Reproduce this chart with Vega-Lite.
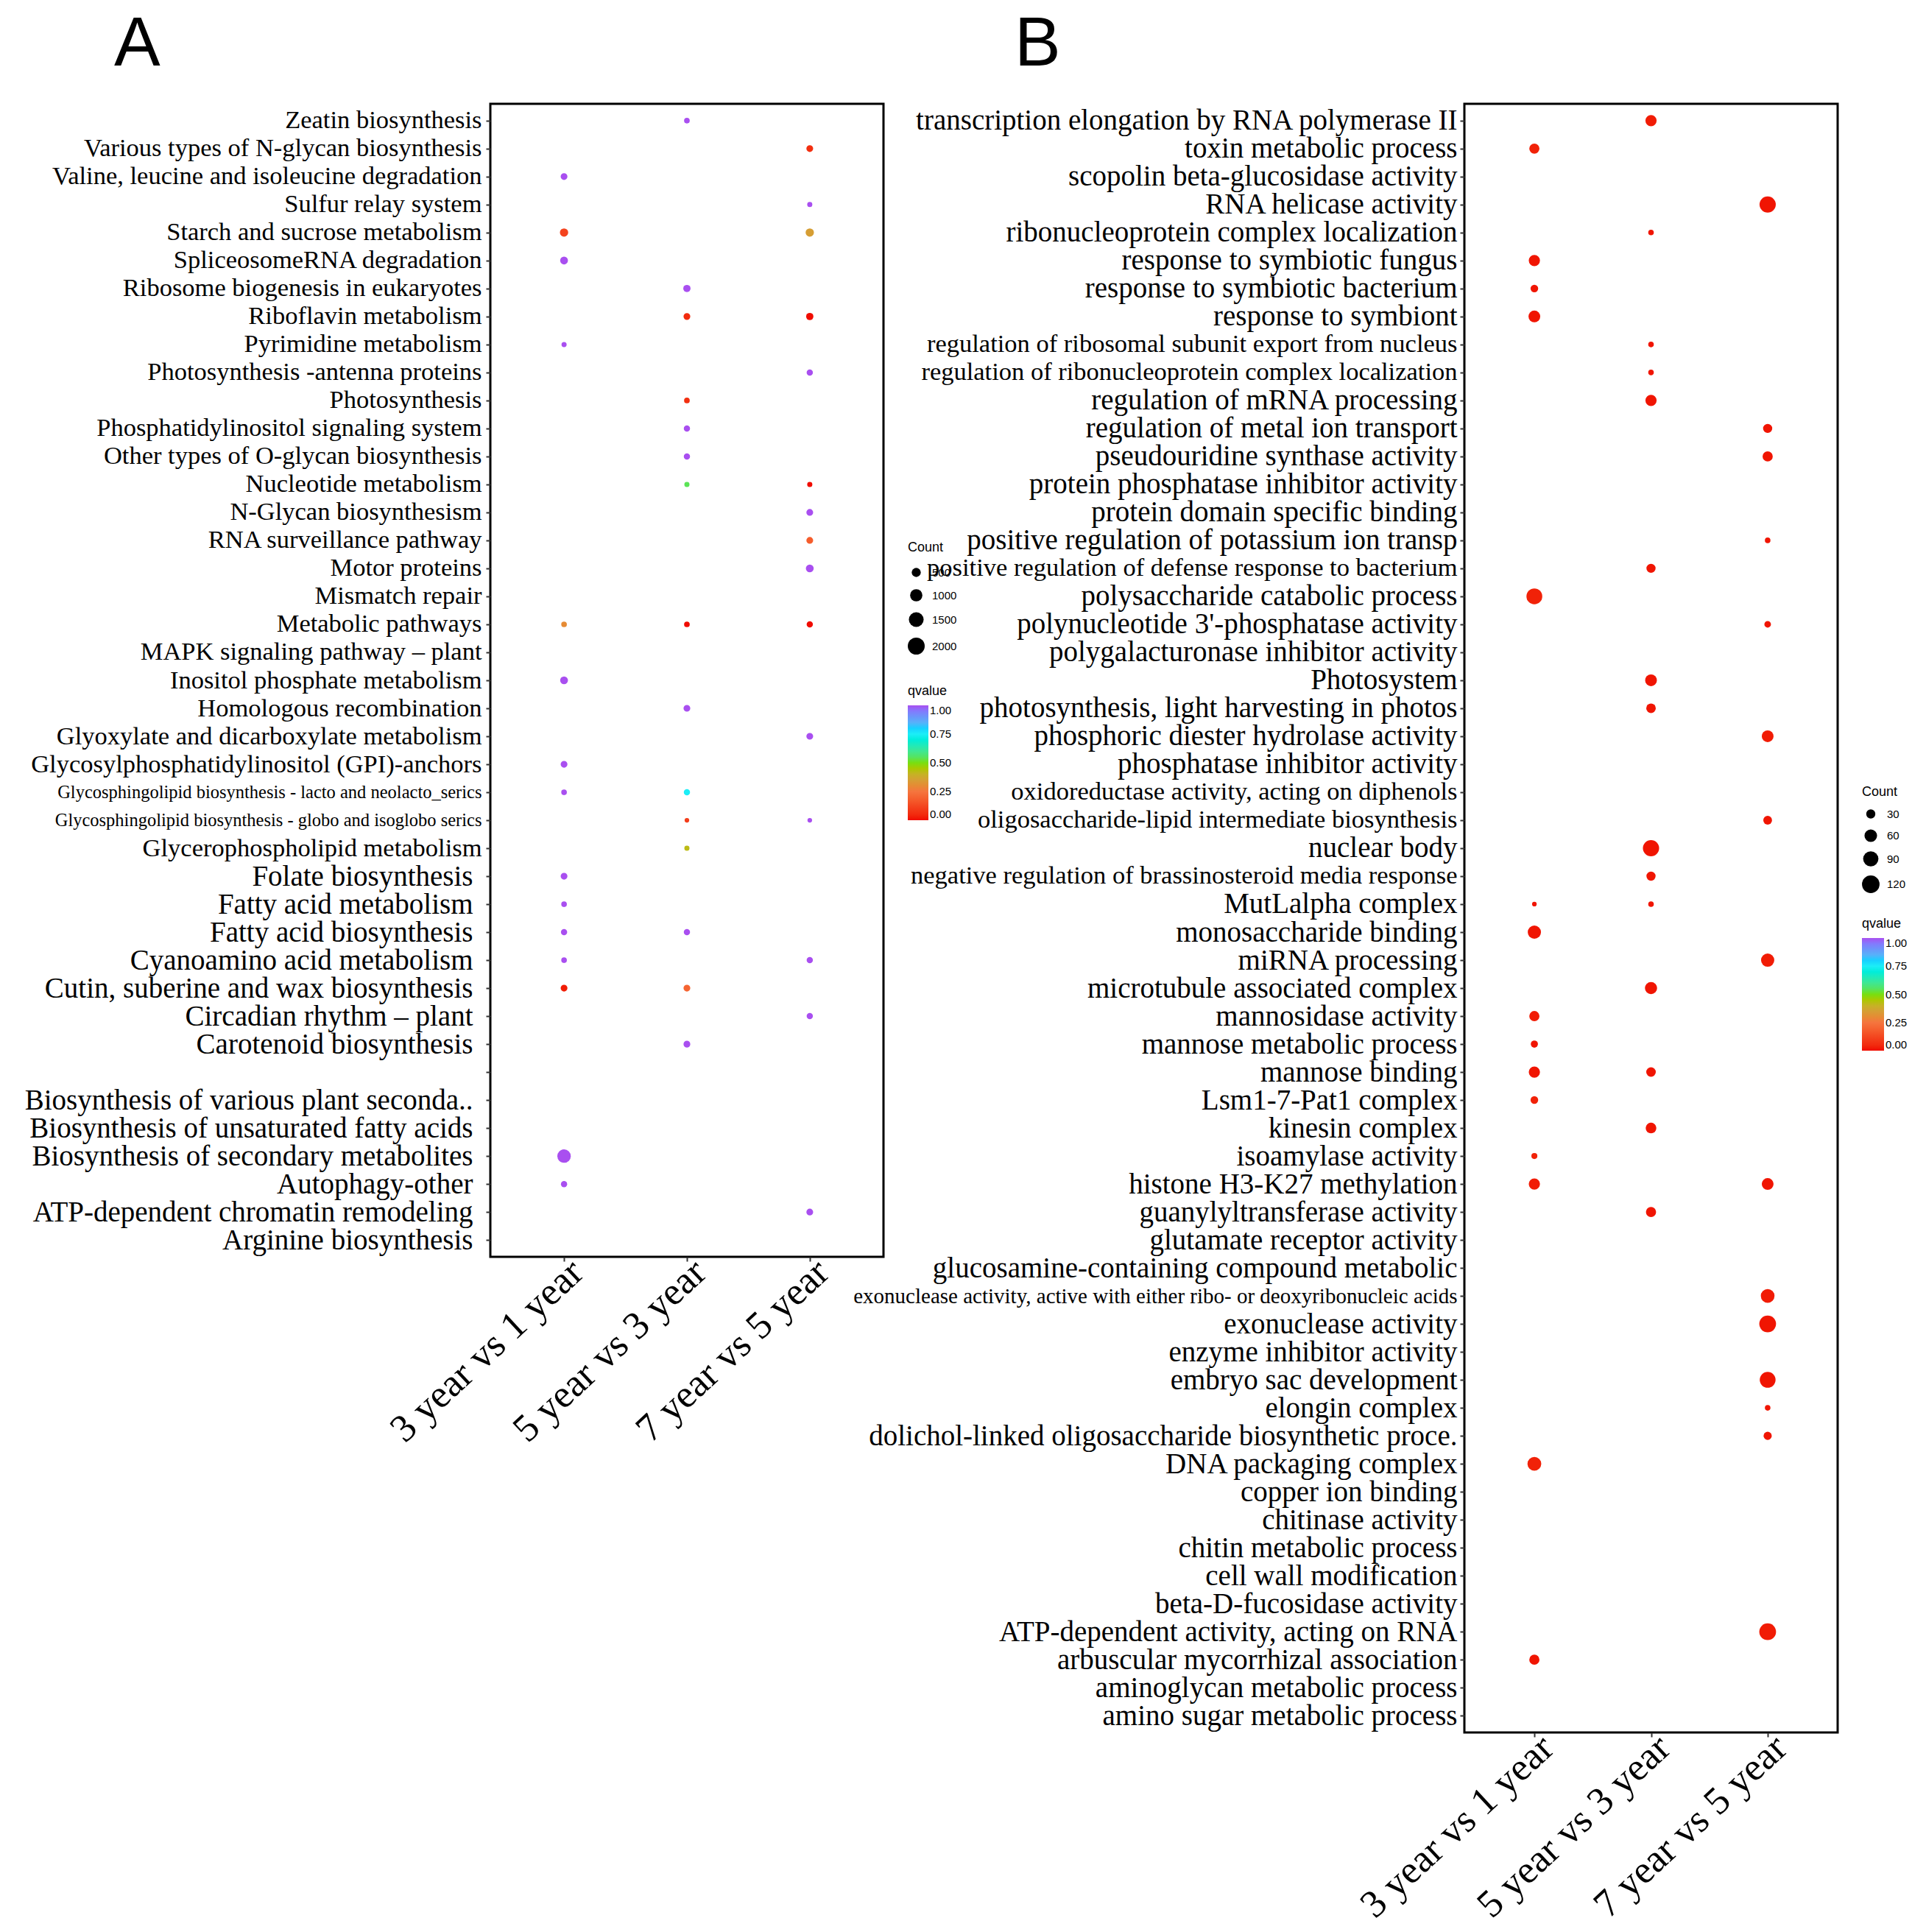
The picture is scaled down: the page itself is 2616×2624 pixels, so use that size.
{
  "$schema": "https://vega.github.io/schema/vega-lite/v6.json",
  "autosize": {"type": "none"},
  "padding": {"left": 666, "top": 141, "right": 1950, "bottom": 2483},
  "background": "white",
  "bounds": "flush",
  "spacing": 789,
  "datasets": {
    "kegg": [
      {"term": "Zeatin biosynthesis", "comp": "5 year vs 3 year", "count": 136, "q": 1.0},
      {"term": "Various types of N-glycan biosynthesis", "comp": "7 year vs 5 year", "count": 237, "q": 0.06},
      {"term": "Valine, leucine and isoleucine degradation", "comp": "3 year vs 1 year", "count": 237, "q": 1.0},
      {"term": "Sulfur relay system", "comp": "7 year vs 5 year", "count": 95, "q": 1.0},
      {"term": "Starch and sucrose metabolism", "comp": "3 year vs 1 year", "count": 407, "q": 0.12},
      {"term": "Starch and sucrose metabolism", "comp": "7 year vs 5 year", "count": 407, "q": 0.35},
      {"term": "SpliceosomeRNA degradation", "comp": "3 year vs 1 year", "count": 347, "q": 1.0},
      {"term": "Ribosome biogenesis in eukaryotes", "comp": "5 year vs 3 year", "count": 290, "q": 1.0},
      {"term": "Riboflavin metabolism", "comp": "5 year vs 3 year", "count": 237, "q": 0.05},
      {"term": "Riboflavin metabolism", "comp": "7 year vs 5 year", "count": 290, "q": 0.0},
      {"term": "Pyrimidine metabolism", "comp": "3 year vs 1 year", "count": 95, "q": 1.0},
      {"term": "Photosynthesis -antenna proteins", "comp": "7 year vs 5 year", "count": 187, "q": 1.0},
      {"term": "Photosynthesis", "comp": "5 year vs 3 year", "count": 136, "q": 0.06},
      {"term": "Phosphatidylinositol signaling system", "comp": "5 year vs 3 year", "count": 187, "q": 1.0},
      {"term": "Other types of O-glycan biosynthesis", "comp": "5 year vs 3 year", "count": 187, "q": 1.0},
      {"term": "Nucleotide metabolism", "comp": "5 year vs 3 year", "count": 95, "q": 0.54},
      {"term": "Nucleotide metabolism", "comp": "7 year vs 5 year", "count": 95, "q": 0.0},
      {"term": "N-Glycan biosynthesism", "comp": "7 year vs 5 year", "count": 237, "q": 1.0},
      {"term": "RNA surveillance pathway", "comp": "7 year vs 5 year", "count": 237, "q": 0.18},
      {"term": "Motor proteins", "comp": "7 year vs 5 year", "count": 347, "q": 1.0},
      {"term": "Metabolic pathways", "comp": "3 year vs 1 year", "count": 136, "q": 0.3},
      {"term": "Metabolic pathways", "comp": "5 year vs 3 year", "count": 136, "q": 0.0},
      {"term": "Metabolic pathways", "comp": "7 year vs 5 year", "count": 187, "q": 0.0},
      {"term": "Inositol phosphate metabolism", "comp": "3 year vs 1 year", "count": 347, "q": 1.0},
      {"term": "Homologous recombination", "comp": "5 year vs 3 year", "count": 237, "q": 1.0},
      {"term": "Glyoxylate and dicarboxylate metabolism", "comp": "7 year vs 5 year", "count": 237, "q": 1.0},
      {"term": "Glycosylphosphatidylinositol (GPI)-anchors", "comp": "3 year vs 1 year", "count": 237, "q": 1.0},
      {"term": "Glycosphingolipid biosynthesis - lacto and neolacto_serics", "comp": "3 year vs 1 year", "count": 136, "q": 1.0},
      {"term": "Glycosphingolipid biosynthesis - lacto and neolacto_serics", "comp": "5 year vs 3 year", "count": 187, "q": 0.75},
      {"term": "Glycosphingolipid biosynthesis - globo and isoglobo serics", "comp": "5 year vs 3 year", "count": 58, "q": 0.1},
      {"term": "Glycosphingolipid biosynthesis - globo and isoglobo serics", "comp": "7 year vs 5 year", "count": 58, "q": 1.0},
      {"term": "Glycerophospholipid metabolism", "comp": "5 year vs 3 year", "count": 95, "q": 0.42},
      {"term": "Folate biosynthesis", "comp": "3 year vs 1 year", "count": 237, "q": 1.0},
      {"term": "Fatty acid metabolism", "comp": "3 year vs 1 year", "count": 136, "q": 1.0},
      {"term": "Fatty acid biosynthesis", "comp": "3 year vs 1 year", "count": 187, "q": 1.0},
      {"term": "Fatty acid biosynthesis", "comp": "5 year vs 3 year", "count": 187, "q": 1.0},
      {"term": "Cyanoamino acid metabolism", "comp": "3 year vs 1 year", "count": 136, "q": 1.0},
      {"term": "Cyanoamino acid metabolism", "comp": "7 year vs 5 year", "count": 187, "q": 1.0},
      {"term": "Cutin, suberine and wax biosynthesis", "comp": "3 year vs 1 year", "count": 237, "q": 0.02},
      {"term": "Cutin, suberine and wax biosynthesis", "comp": "5 year vs 3 year", "count": 237, "q": 0.2},
      {"term": "Circadian rhythm – plant", "comp": "7 year vs 5 year", "count": 187, "q": 1.0},
      {"term": "Carotenoid biosynthesis", "comp": "5 year vs 3 year", "count": 237, "q": 1.0},
      {"term": "Biosynthesis of secondary metabolites", "comp": "3 year vs 1 year", "count": 1230, "q": 1.0},
      {"term": "Autophagy-other", "comp": "3 year vs 1 year", "count": 187, "q": 1.0},
      {"term": "ATP-dependent chromatin remodeling", "comp": "7 year vs 5 year", "count": 237, "q": 1.0}
    ],
    "go": [
      {"term": "transcription elongation by RNA polymerase II", "comp": "5 year vs 3 year", "count": 47, "q": 0.02},
      {"term": "toxin metabolic process", "comp": "3 year vs 1 year", "count": 38, "q": 0.03},
      {"term": "RNA helicase activity", "comp": "7 year vs 5 year", "count": 102, "q": 0.01},
      {"term": "ribonucleoprotein complex localization", "comp": "5 year vs 3 year", "count": 9, "q": 0.01},
      {"term": "response to symbiotic fungus", "comp": "3 year vs 1 year", "count": 47, "q": 0.01},
      {"term": "response to symbiotic bacterium", "comp": "3 year vs 1 year", "count": 20, "q": 0.01},
      {"term": "response to symbiont", "comp": "3 year vs 1 year", "count": 52, "q": 0.01},
      {"term": "regulation of ribosomal subunit export from nucleus", "comp": "5 year vs 3 year", "count": 9, "q": 0.01},
      {"term": "regulation of ribonucleoprotein complex localization", "comp": "5 year vs 3 year", "count": 9, "q": 0.01},
      {"term": "regulation of mRNA processing", "comp": "5 year vs 3 year", "count": 47, "q": 0.01},
      {"term": "regulation of metal ion transport", "comp": "7 year vs 5 year", "count": 30, "q": 0.01},
      {"term": "pseudouridine synthase activity", "comp": "7 year vs 5 year", "count": 38, "q": 0.01},
      {"term": "positive regulation of potassium ion transp", "comp": "7 year vs 5 year", "count": 9, "q": 0.01},
      {"term": "positive regulation of defense response to bacterium", "comp": "5 year vs 3 year", "count": 30, "q": 0.01},
      {"term": "polysaccharide catabolic process", "comp": "3 year vs 1 year", "count": 97, "q": 0.03},
      {"term": "polynucleotide 3'-phosphatase activity", "comp": "7 year vs 5 year", "count": 14, "q": 0.01},
      {"term": "Photosystem", "comp": "5 year vs 3 year", "count": 52, "q": 0.01},
      {"term": "photosynthesis, light harvesting in photos", "comp": "5 year vs 3 year", "count": 33, "q": 0.01},
      {"term": "phosphoric diester hydrolase activity", "comp": "7 year vs 5 year", "count": 52, "q": 0.02},
      {"term": "oligosaccharide-lipid intermediate biosynthesis", "comp": "7 year vs 5 year", "count": 27, "q": 0.01},
      {"term": "nuclear body", "comp": "5 year vs 3 year", "count": 102, "q": 0.01},
      {"term": "negative regulation of brassinosteroid media response", "comp": "5 year vs 3 year", "count": 30, "q": 0.01},
      {"term": "MutLalpha complex", "comp": "3 year vs 1 year", "count": 5, "q": 0.01},
      {"term": "MutLalpha complex", "comp": "5 year vs 3 year", "count": 9, "q": 0.01},
      {"term": "monosaccharide binding", "comp": "3 year vs 1 year", "count": 67, "q": 0.01},
      {"term": "miRNA processing", "comp": "7 year vs 5 year", "count": 67, "q": 0.02},
      {"term": "microtubule associated complex", "comp": "5 year vs 3 year", "count": 56, "q": 0.01},
      {"term": "mannosidase activity", "comp": "3 year vs 1 year", "count": 38, "q": 0.02},
      {"term": "mannose metabolic process", "comp": "3 year vs 1 year", "count": 17, "q": 0.01},
      {"term": "mannose binding", "comp": "3 year vs 1 year", "count": 47, "q": 0.01},
      {"term": "mannose binding", "comp": "5 year vs 3 year", "count": 33, "q": 0.01},
      {"term": "Lsm1-7-Pat1 complex", "comp": "3 year vs 1 year", "count": 20, "q": 0.03},
      {"term": "kinesin complex", "comp": "5 year vs 3 year", "count": 42, "q": 0.01},
      {"term": "isoamylase activity", "comp": "3 year vs 1 year", "count": 11, "q": 0.03},
      {"term": "histone H3-K27 methylation", "comp": "3 year vs 1 year", "count": 47, "q": 0.02},
      {"term": "histone H3-K27 methylation", "comp": "7 year vs 5 year", "count": 52, "q": 0.01},
      {"term": "guanylyltransferase activity", "comp": "5 year vs 3 year", "count": 38, "q": 0.01},
      {"term": "exonuclease activity, active with either ribo- or deoxyribonucleic acids", "comp": "7 year vs 5 year", "count": 72, "q": 0.02},
      {"term": "exonuclease activity", "comp": "7 year vs 5 year", "count": 109, "q": 0.01},
      {"term": "embryo sac development", "comp": "7 year vs 5 year", "count": 97, "q": 0.01},
      {"term": "elongin complex", "comp": "7 year vs 5 year", "count": 9, "q": 0.01},
      {"term": "dolichol-linked oligosaccharide biosynthetic proce.", "comp": "7 year vs 5 year", "count": 23, "q": 0.01},
      {"term": "DNA packaging complex", "comp": "3 year vs 1 year", "count": 72, "q": 0.03},
      {"term": "ATP-dependent activity, acting on RNA", "comp": "7 year vs 5 year", "count": 109, "q": 0.02},
      {"term": "arbuscular mycorrhizal association", "comp": "3 year vs 1 year", "count": 38, "q": 0.01}
    ]
  },
  "hconcat": [
    {
      "data": {"name": "kegg"},
      "width": 534,
      "height": 1566,
      "title": {"text": "A", "dx": -511, "offset": 32},
      "mark": {"type": "circle", "opacity": 1},
      "encoding": {
        "x": {
          "field": "comp", "type": "nominal",
          "scale": {"domain": ["3 year vs 1 year", "5 year vs 3 year", "7 year vs 5 year"], "padding": 0.6},
          "axis": {"title": null}
        },
        "y": {
          "field": "term", "type": "nominal",
          "scale": {"padding": 0.6, "domain": [
            "Zeatin biosynthesis",
            "Various types of N-glycan biosynthesis",
            "Valine, leucine and isoleucine degradation",
            "Sulfur relay system",
            "Starch and sucrose metabolism",
            "SpliceosomeRNA degradation",
            "Ribosome biogenesis in eukaryotes",
            "Riboflavin metabolism",
            "Pyrimidine metabolism",
            "Photosynthesis -antenna proteins",
            "Photosynthesis",
            "Phosphatidylinositol signaling system",
            "Other types of O-glycan biosynthesis",
            "Nucleotide metabolism",
            "N-Glycan biosynthesism",
            "RNA surveillance pathway",
            "Motor proteins",
            "Mismatch repair",
            "Metabolic pathways",
            "MAPK signaling pathway – plant",
            "Inositol phosphate metabolism",
            "Homologous recombination",
            "Glyoxylate and dicarboxylate metabolism",
            "Glycosylphosphatidylinositol (GPI)-anchors",
            "Glycosphingolipid biosynthesis - lacto and neolacto_serics",
            "Glycosphingolipid biosynthesis - globo and isoglobo serics",
            "Glycerophospholipid metabolism",
            "Folate biosynthesis",
            "Fatty acid metabolism",
            "Fatty acid biosynthesis",
            "Cyanoamino acid metabolism",
            "Cutin, suberine and wax biosynthesis",
            "Circadian rhythm – plant",
            "Carotenoid biosynthesis",
            " ",
            "Biosynthesis of various plant seconda..",
            "Biosynthesis of unsaturated fatty acids",
            "Biosynthesis of secondary metabolites",
            "Autophagy-other",
            "ATP-dependent chromatin remodeling",
            "Arginine biosynthesis"
          ]},
          "axis": {
            "title": null,
            "labelPadding": {"condition": {"test": "indexof(['Folate biosynthesis','Fatty acid metabolism','Fatty acid biosynthesis','Cyanoamino acid metabolism','Cutin, suberine and wax biosynthesis','Circadian rhythm – plant','Carotenoid biosynthesis','Biosynthesis of various plant seconda..','Biosynthesis of unsaturated fatty acids','Biosynthesis of secondary metabolites','Autophagy-other','ATP-dependent chromatin remodeling','Arginine biosynthesis'], datum.value) >= 0", "value": 18}, "value": 6},
            "labelFontSize": {"condition": [
              {"test": "indexof(['Glycosphingolipid biosynthesis - lacto and neolacto_serics','Glycosphingolipid biosynthesis - globo and isoglobo serics'], datum.value) >= 0", "value": 24.5},
              {"test": "indexof(['Folate biosynthesis','Fatty acid metabolism','Fatty acid biosynthesis','Cyanoamino acid metabolism','Cutin, suberine and wax biosynthesis','Circadian rhythm – plant','Carotenoid biosynthesis','Biosynthesis of various plant seconda..','Biosynthesis of unsaturated fatty acids','Biosynthesis of secondary metabolites','Autophagy-other','ATP-dependent chromatin remodeling','Arginine biosynthesis'], datum.value) >= 0", "value": 39}
            ], "value": 34.5}
          }
        },
        "size": {
          "field": "count", "type": "quantitative",
          "scale": {"type": "linear", "domain": [0, 2000], "range": [25, 529], "zero": false},
          "legend": {"orient": "none", "legendX": 567, "legendY": 594, "title": "Count", "values": [500, 1000, 1500, 2000], "format": "d", "symbolFillColor": "black", "symbolStrokeWidth": 0, "rowPadding": 14, "titlePadding": 17, "labelFontSize": 15, "titleFontSize": 18}
        },
        "color": {
          "field": "q", "type": "quantitative",
          "scale": {"type": "linear", "domain": [0, 0.12, 0.25, 0.37, 0.5, 0.62, 0.75, 0.87, 1], "range": ["#F00C00", "#F4431E", "#F5753E", "#CFA537", "#78DF10", "#3FE7A2", "#1CEEF7", "#6AA3F2", "#A94FF0"]},
          "legend": {"orient": "none", "legendX": 567, "legendY": 789, "title": "qvalue", "values": [0, 0.25, 0.5, 0.75, 1], "format": ".2f", "gradientLength": 156, "gradientThickness": 28, "labelFontSize": 15, "titleFontSize": 18, "direction": "vertical"}
        }
      }
    },
    {
      "data": {"name": "go"},
      "width": 507,
      "height": 2212,
      "title": {"text": "B", "dx": -611, "offset": 32},
      "mark": {"type": "circle", "opacity": 1},
      "encoding": {
        "x": {
          "field": "comp", "type": "nominal",
          "scale": {"domain": ["3 year vs 1 year", "5 year vs 3 year", "7 year vs 5 year"], "padding": 0.6},
          "axis": {"title": null}
        },
        "y": {
          "field": "term", "type": "nominal",
          "scale": {"padding": 0.6, "domain": [
            "transcription elongation by RNA polymerase II",
            "toxin metabolic process",
            "scopolin beta-glucosidase activity",
            "RNA helicase activity",
            "ribonucleoprotein complex localization",
            "response to symbiotic fungus",
            "response to symbiotic bacterium",
            "response to symbiont",
            "regulation of ribosomal subunit export from nucleus",
            "regulation of ribonucleoprotein complex localization",
            "regulation of mRNA processing",
            "regulation of metal ion transport",
            "pseudouridine synthase activity",
            "protein phosphatase inhibitor activity",
            "protein domain specific binding",
            "positive regulation of potassium ion transp",
            "positive regulation of defense response to bacterium",
            "polysaccharide catabolic process",
            "polynucleotide 3'-phosphatase activity",
            "polygalacturonase inhibitor activity",
            "Photosystem",
            "photosynthesis, light harvesting in photos",
            "phosphoric diester hydrolase activity",
            "phosphatase inhibitor activity",
            "oxidoreductase activity, acting on diphenols",
            "oligosaccharide-lipid intermediate biosynthesis",
            "nuclear body",
            "negative regulation of brassinosteroid media response",
            "MutLalpha complex",
            "monosaccharide binding",
            "miRNA processing",
            "microtubule associated complex",
            "mannosidase activity",
            "mannose metabolic process",
            "mannose binding",
            "Lsm1-7-Pat1 complex",
            "kinesin complex",
            "isoamylase activity",
            "histone H3-K27 methylation",
            "guanylyltransferase activity",
            "glutamate receptor activity",
            "glucosamine-containing compound metabolic",
            "exonuclease activity, active with either ribo- or deoxyribonucleic acids",
            "exonuclease activity",
            "enzyme inhibitor activity",
            "embryo sac development",
            "elongin complex",
            "dolichol-linked oligosaccharide biosynthetic proce.",
            "DNA packaging complex",
            "copper ion binding",
            "chitinase activity",
            "chitin metabolic process",
            "cell wall modification",
            "beta-D-fucosidase activity",
            "ATP-dependent activity, acting on RNA",
            "arbuscular mycorrhizal association",
            "aminoglycan metabolic process",
            "amino sugar metabolic process"
          ]},
          "axis": {
            "title": null,
            "labelPadding": 4,
            "labelFontSize": {"condition": [
              {"test": "datum.value == 'exonuclease activity, active with either ribo- or deoxyribonucleic acids'", "value": 29},
              {"test": "indexof(['regulation of ribosomal subunit export from nucleus','regulation of ribonucleoprotein complex localization','positive regulation of defense response to bacterium','oxidoreductase activity, acting on diphenols','oligosaccharide-lipid intermediate biosynthesis','negative regulation of brassinosteroid media response'], datum.value) >= 0", "value": 34.5}
            ], "value": 39}
          }
        },
        "size": {
          "field": "count", "type": "quantitative",
          "scale": {"type": "linear", "domain": [0, 120], "range": [16, 568], "zero": false},
          "legend": {"orient": "none", "legendX": 540, "legendY": 926, "title": "Count", "values": [30, 60, 90, 120], "format": "d", "symbolFillColor": "black", "symbolStrokeWidth": 0, "rowPadding": 12, "titlePadding": 13, "labelFontSize": 15, "titleFontSize": 18}
        },
        "color": {
          "field": "q", "type": "quantitative",
          "scale": {"type": "linear", "domain": [0, 0.12, 0.25, 0.37, 0.5, 0.62, 0.75, 0.87, 1], "range": ["#F00C00", "#F4431E", "#F5753E", "#CFA537", "#78DF10", "#3FE7A2", "#1CEEF7", "#6AA3F2", "#A94FF0"]},
          "legend": {"orient": "none", "legendX": 540, "legendY": 1105, "title": "qvalue", "values": [0, 0.25, 0.5, 0.75, 1], "format": ".2f", "gradientLength": 153, "gradientThickness": 30, "labelFontSize": 15, "titleFontSize": 18, "direction": "vertical"}
        }
      }
    }
  ],
  "resolve": {
    "scale": {"x": "independent", "y": "independent", "color": "independent", "size": "independent"},
    "legend": {"color": "independent", "size": "independent"}
  },
  "config": {
    "view": {"stroke": "black", "strokeWidth": 3},
    "mark": {"color": "black"},
    "title": {"font": "Liberation Sans", "fontSize": 94, "fontWeight": "normal", "anchor": "start", "frame": "group", "color": "black", "baseline": "alphabetic"},
    "axis": {
      "domain": false,
      "grid": false,
      "ticks": true,
      "tickColor": "#333333",
      "tickSize": 6,
      "tickWidth": 2,
      "labelColor": "black",
      "labelFont": "Liberation Serif",
      "labelLimit": 0,
      "labelOverlap": false
    },
    "axisX": {
      "labelAngle": -43,
      "labelAlign": "right",
      "labelBaseline": "top",
      "labelFontSize": 53,
      "labelPadding": -12
    },
    "legend": {
      "labelFont": "Liberation Sans",
      "titleFont": "Liberation Sans",
      "titleFontWeight": "normal",
      "labelColor": "black",
      "titleColor": "black",
      "titlePadding": 10,
      "labelOffset": 10
    }
  }
}
